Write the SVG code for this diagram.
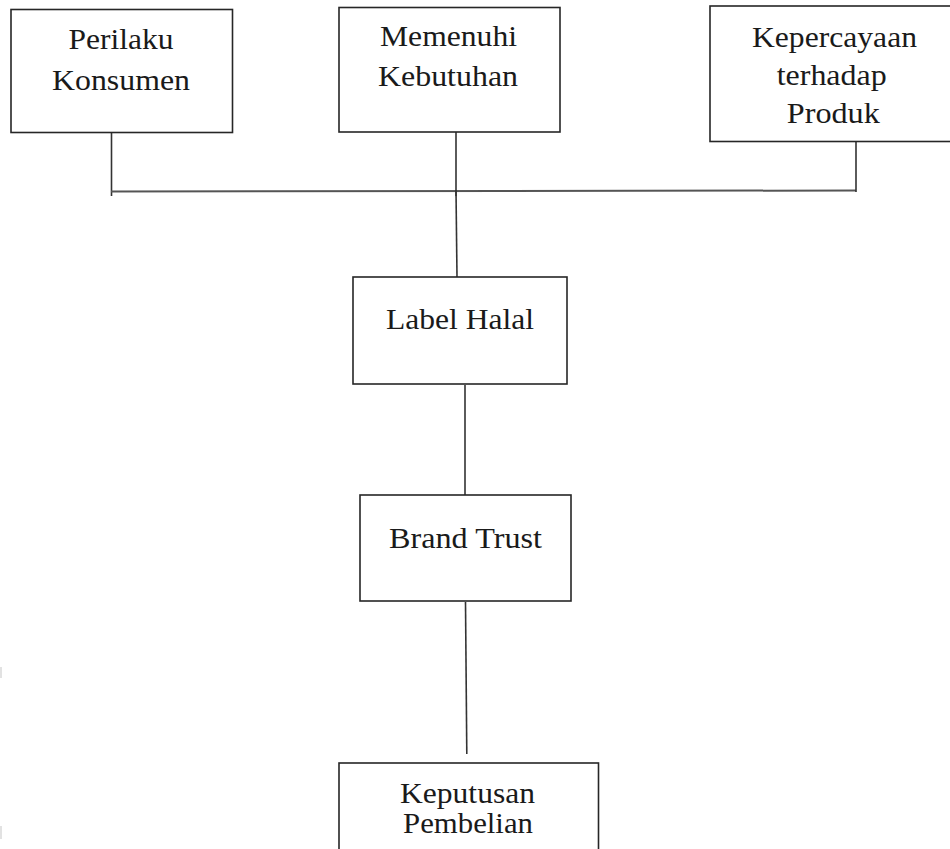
<svg xmlns="http://www.w3.org/2000/svg" width="950" height="849" viewBox="0 0 950 849">
<style>
  .box { fill: #ffffff; stroke: #262626; stroke-width: 1.6; }
  .lbl { font-family: "Liberation Serif", "Times New Roman", serif; font-size: 30px; fill: #1a1a1a; text-anchor: middle; }
  .conn { stroke: #333333; stroke-width: 1.6; fill: none; }
  .hconn { stroke: #555555; stroke-width: 2; fill: none; }
</style>
<rect width="950" height="849" fill="#ffffff"/>
<g id="connectors">
  <line class="conn" x1="111.5" y1="132" x2="111.5" y2="196"/>
  <line class="hconn" x1="111" y1="191.5" x2="856" y2="190.5"/>
  <line class="conn" x1="456" y1="132" x2="456" y2="196"/>
  <line class="conn" x1="856" y1="142" x2="856" y2="192"/>
  <line class="conn" x1="456" y1="190" x2="457" y2="277"/>
  <line class="conn" x1="465" y1="385" x2="465" y2="495"/>
  <line class="conn" x1="465.5" y1="602" x2="466.8" y2="754"/>
</g>
<g id="node-perilaku">
  <rect class="box" x="11" y="9.5" width="221.5" height="123"/>
  <text class="lbl" x="121" y="49" textLength="105" lengthAdjust="spacingAndGlyphs">Perilaku</text>
  <text class="lbl" x="121" y="90" textLength="138" lengthAdjust="spacingAndGlyphs">Konsumen</text>
</g>
<g id="node-memenuhi">
  <rect class="box" x="339" y="7.5" width="221" height="124.5"/>
  <text class="lbl" x="448.5" y="46" textLength="137" lengthAdjust="spacingAndGlyphs">Memenuhi</text>
  <text class="lbl" x="448" y="86" textLength="140" lengthAdjust="spacingAndGlyphs">Kebutuhan</text>
</g>
<g id="node-kepercayaan">
  <rect class="box" x="710" y="6" width="250" height="135.5"/>
  <text class="lbl" x="834.5" y="47" textLength="165" lengthAdjust="spacingAndGlyphs">Kepercayaan</text>
  <text class="lbl" x="831.7" y="85" textLength="110" lengthAdjust="spacingAndGlyphs">terhadap</text>
  <text class="lbl" x="833.3" y="123" textLength="93" lengthAdjust="spacingAndGlyphs">Produk</text>
</g>
<g id="node-label-halal">
  <rect class="box" x="353" y="277" width="214" height="107"/>
  <text class="lbl" x="460" y="329" textLength="148" lengthAdjust="spacingAndGlyphs">Label Halal</text>
</g>
<g id="node-brand-trust">
  <rect class="box" x="360" y="495" width="211" height="106"/>
  <text class="lbl" x="465.5" y="548" textLength="153" lengthAdjust="spacingAndGlyphs">Brand Trust</text>
</g>
<g id="node-keputusan">
  <rect class="box" x="339" y="763" width="259.5" height="100"/>
  <text class="lbl" x="467.5" y="803" textLength="135" lengthAdjust="spacingAndGlyphs">Keputusan</text>
  <text class="lbl" x="468" y="833" textLength="130" lengthAdjust="spacingAndGlyphs">Pembelian</text>
</g>
<rect x="0" y="667" width="2" height="11" fill="#e2e2e2"/>
<rect x="0" y="826" width="2" height="13" fill="#e2e2e2"/>
</svg>
